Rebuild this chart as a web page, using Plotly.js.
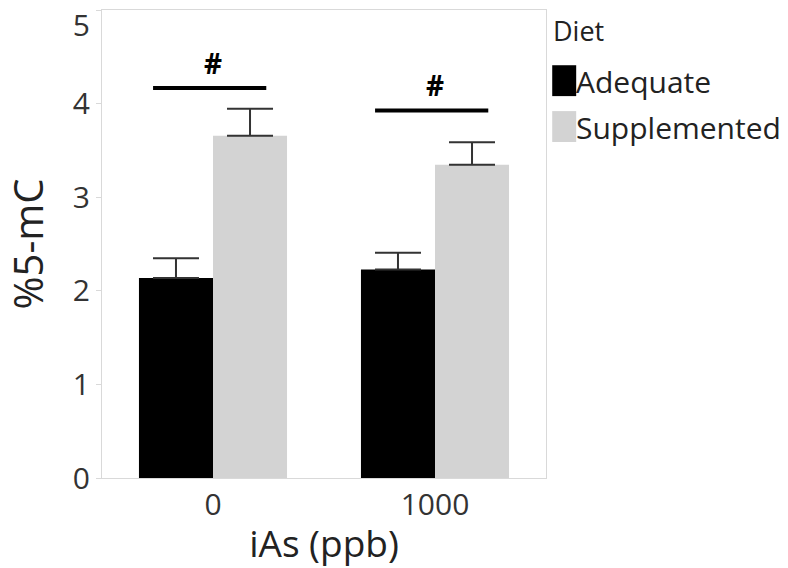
<!DOCTYPE html>
<html><head><meta charset="utf-8">
<script src="https://cdn.plot.ly/plotly-3.0.1.min.js"></script>
<style>html,body{margin:0;padding:0;background:#fff}#chart{width:788px;height:568px}</style>
</head><body><div id="chart"></div>
<script>
const categories = ["0", "1000"];
const seriesNames = ["Adequate", "Supplemented"];
const seriesColors = ["#000000", "#d3d3d3"];
const adequate = [2.14, 2.23];
const adequateErr = [0.21, 0.18];
const supplemented = [3.66, 3.35];
const supplementedErr = [0.29, 0.24];
const sigLabels = ["#", "#"];
const sigLineY = [4.17, 3.93];
const sigLabelY = [4.44, 4.2];
const yTicks = [0, 1, 2, 3, 4];
const yTopTick = [5];
const yMax = 5.005;

const font = "Open Sans, Noto Sans, sans-serif";
const values = [adequate, supplemented];
const errs = [adequateErr, supplementedErr];
const traces = seriesNames.map((n, i) => ({
  type: "bar", name: n, x: categories, y: values[i],
  marker: {color: seriesColors[i], line: {width: 0}},
  error_y: {type: "data", symmetric: false, array: errs[i], arrayminus: errs[i].map(() => 0), visible: true,
    color: "#333333", thickness: 2, width: 23},
  showlegend: false
}));
// empty helper trace so the overlaid axis carrying the top tick label is drawn
traces.push({type: "scatter", mode: "markers", x: [], y: [], yaxis: "y2", showlegend: false, hoverinfo: "skip"});

const shapes = [];
const annotations = [];
categories.forEach((c, i) => {
  shapes.push({type: "line", xref: "x", yref: "y", x0: i - 0.27, x1: i + 0.24, y0: sigLineY[i], y1: sigLineY[i],
    line: {color: "#000", width: 4}});
  annotations.push({xref: "x", yref: "y", x: i, y: sigLabelY[i], text: "<b>" + sigLabels[i] + "</b>",
    showarrow: false, font: {family: font, size: 28, color: "#000"}});
});
// legend drawn in paper coordinates
annotations.push({xref: "paper", yref: "paper", x: 1.012, y: 0.957, xanchor: "left", yanchor: "middle",
  text: "Diet", showarrow: false, font: {family: font, size: 27, color: "#222"}});
const legY = [0.849, 0.751];
seriesNames.forEach((n, i) => {
  shapes.push({type: "rect", xref: "paper", yref: "paper", x0: 1.014, x1: 1.068, y0: legY[i] - 0.033, y1: legY[i] + 0.033,
    fillcolor: seriesColors[i], line: {width: 0}});
  annotations.push({xref: "paper", yref: "paper", x: 1.064, y: legY[i] - 0.002, xanchor: "left", yanchor: "middle",
    text: n, showarrow: false, font: {family: font, size: 30, color: "#222"}});
});

const layout = {
  width: 788, height: 568,
  margin: {l: 102, r: 242, t: 10, b: 90},
  paper_bgcolor: "#fff", plot_bgcolor: "#fff",
  barmode: "group", bargap: 0.333, bargroupgap: 0,
  font: {family: font, color: "#333"},
  xaxis: {type: "category", range: [-0.5, 1.5], showline: true, linecolor: "#d9d9d9", linewidth: 1, mirror: true,
    ticks: "", tickfont: {size: 30, color: "#333"}, showgrid: false,
    title: {text: "iAs (ppb)", font: {size: 37, color: "#222"}, standoff: 8}},
  yaxis: {range: [0, yMax], tickvals: yTicks, showline: true, linecolor: "#d9d9d9", linewidth: 1, mirror: true,
    ticks: "outside", ticklen: 5, tickcolor: "#d9d9d9", tickfont: {size: 30, color: "#333"}, showgrid: false, zeroline: false,
    title: {text: "%5-mC", font: {size: 40, color: "#222"}, standoff: 16}},
  yaxis2: {overlaying: "y", side: "left", range: [0, yMax], tickvals: yTopTick, showline: false,
    ticks: "outside", ticklen: 5, tickcolor: "#d9d9d9", tickfont: {size: 30, color: "#333"}, showgrid: false, zeroline: false,
    ticklabelshift: 15, ticklabeloverflow: "allow"},
  shapes: shapes, annotations: annotations, showlegend: false
};
Plotly.newPlot("chart", traces, layout, {displayModeBar: false});
</script></body></html>
